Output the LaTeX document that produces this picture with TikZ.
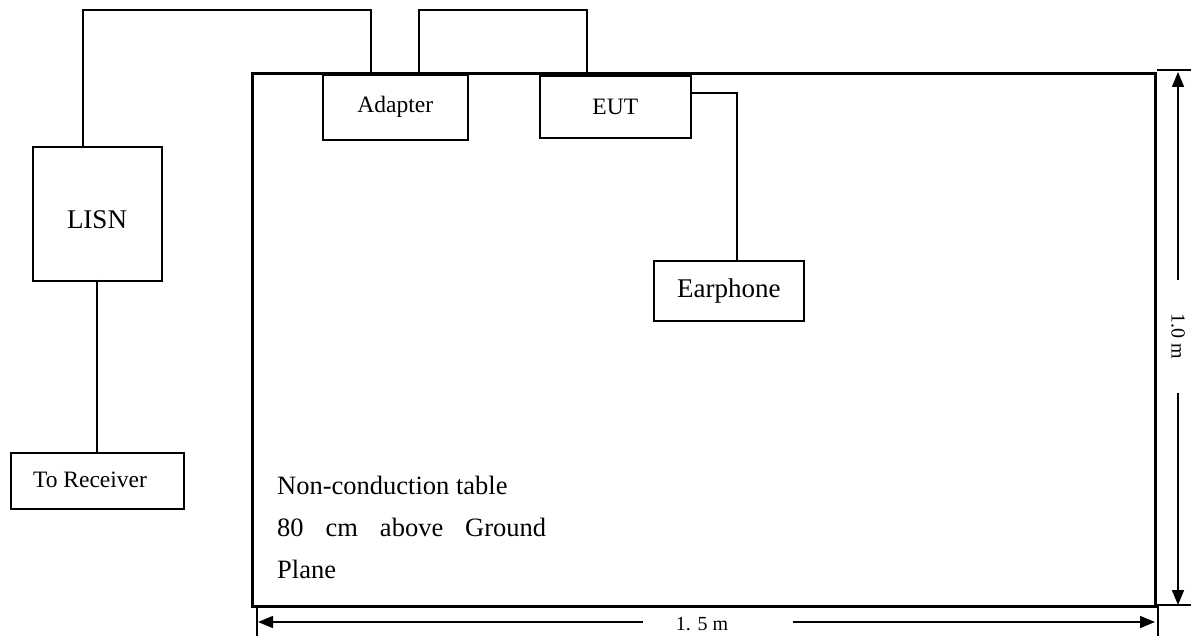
\documentclass[tikz,border=0pt]{standalone}
\usepackage{fontspec}
\setmainfont{Liberation Serif}
\usetikzlibrary{arrows.meta}
\begin{document}
\begin{tikzpicture}[x=1pt,y=-1pt,
  wire/.style={line width=1.6pt},
  box/.style={draw,line width=1.6pt,rectangle,inner sep=0pt,anchor=north west},
  dim/.style={line width=1.6pt},
  tip/.style={-{Triangle[length=15pt,width=12pt]}},
  big/.style={font=\fontsize{27}{30}\selectfont},
  mid/.style={font=\fontsize{23.5}{26}\selectfont},
  small/.style={font=\fontsize{20}{22}\selectfont},
  tabtxt/.style={font=\fontsize{26.5}{30}\selectfont,anchor=base west,inner sep=0pt}]
\useasboundingbox (0,0) rectangle (1191,636);
% table
\node[box,line width=3pt,minimum width=903pt,minimum height=533pt] (table) at (251,72) {};
% boxes
\node[box,minimum width=145pt,minimum height=65pt,mid] (adapter) at (322,74) {Adapter};
\node[box,minimum width=151pt,minimum height=62pt,mid] (eut) at (539,75) {EUT};
\node[box,minimum width=129pt,minimum height=134pt] (lisn) at (32,146) {};
\node[big] (lisntxt) at (97,220) {LISN};
\node[box,minimum width=173pt,minimum height=56pt] (recv) at (10,452) {};
\node[mid] (recvtxt) at (90,480) {To Receiver};
\node[box,minimum width=150pt,minimum height=60pt,big] (ear) at (653,260) {Earphone};
% wires
\coordinate (w1) at (83,10);
\coordinate (w2) at (371,10);
\coordinate (w3) at (419,10);
\coordinate (w4) at (587,10);
\coordinate (w5) at (737,93);
\draw[wire] (lisn.north -| w1) -- (w1) -- (w2) -- (w2 |- table.north);
\draw[wire] (w3 |- table.north) -- (w3) -- (w4) -- (w4 |- table.north);
\draw[wire] (eut.east |- w5) -- (w5) -- (w5 |- ear.north);
\draw[wire] (97,280) coordinate (l1) -- (l1 |- recv.north);
% table text
\node[tabtxt] (t1) at (277,494) {Non-conduction table};
\node[tabtxt] (t2) at (277,536) {\hbox to 269pt{80\hfill cm\hfill above\hfill Ground}};
\node[tabtxt] (t3) at (277,578) {Plane};
% vertical dimension
\coordinate (vt) at (1178,72);
\coordinate (vb) at (1178,605);
\coordinate (vg1) at (1178,280);
\coordinate (vg2) at (1178,393);
\draw[dim] (1157,70) -- (1191,70);
\draw[dim] (1158,636) -- (1158,605) -- (1191,605);
\draw[dim,tip] (vg1) -- (vt);
\draw[dim,tip] (vg2) -- (vb);
\node[small,rotate=-90] (vlabel) at (1178,336) {1.0 m};
% horizontal dimension
\coordinate (hl) at (258,622);
\coordinate (hr) at (1155,622);
\coordinate (hg1) at (643,622);
\coordinate (hg2) at (793,622);
\draw[dim] (257,607) -- (257,636);
\draw[dim,tip] (hg1) -- (hl);
\draw[dim,tip] (hg2) -- (hr);
\node[small] (hlabel) at (702,624) {1. 5 m};
\end{tikzpicture}
\end{document}
